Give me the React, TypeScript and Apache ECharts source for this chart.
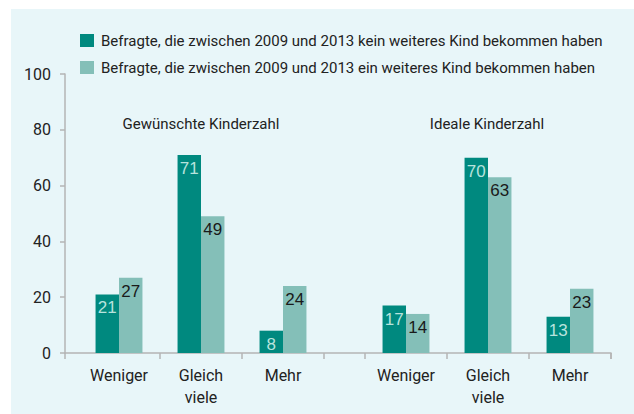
import React, { useEffect, useRef } from "react";
import * as echarts from "echarts";

const categories = ["Weniger", "Gleich\nviele", "Mehr"];
const groupTitles = ["Gewünschte Kinderzahl", "Ideale Kinderzahl"];
const seriesNames = [
  "Befragte, die zwischen 2009 und 2013 kein weiteres Kind bekommen haben",
  "Befragte, die zwischen 2009 und 2013 ein weiteres Kind bekommen haben",
];
const desiredNoChild = [21, 71, 8];
const desiredMoreChild = [27, 49, 24];
const idealNoChild = [17, 70, 13];
const idealMoreChild = [14, 63, 23];
const yMin = 0;
const yMax = 100;
const yInterval = 20;

const DARK = "#00897f";
const LIGHT = "#84bfb8";
const AXIS = "#b4b4b4";
const TEXT = "#222222";
const FONT = "Roboto, 'Liberation Sans', sans-serif";

export default function App() {
  const ref = useRef<HTMLDivElement>(null);
  useEffect(() => {
    if (!ref.current) return;
    const chart = echarts.init(ref.current, undefined, { renderer: "svg" });
    const top = 74;
    const height = 279;
    const grids = [
      { left: 78, top, width: 246, height },
      { left: 365, top, width: 246, height },
      { left: 65, top, width: 546, height },
    ];
    const catAxis = (gridIndex: number, hideFirst: boolean) => ({
      type: "category",
      gridIndex,
      data: categories,
      axisLine: { show: false },
      axisTick: {
        show: true,
        length: 6,
        lineStyle: { color: AXIS, width: 1.5 },
        interval: hideFirst ? (i: number) => i !== 0 : 0,
      },
      axisLabel: {
        color: TEXT,
        fontFamily: FONT,
        fontSize: 16,
        lineHeight: 22,
        margin: 11,
      },
    });
    const barLabel = (light: boolean) => ({
      show: true,
      position: "insideTop",
      distance: 5,
      fontFamily: "'Liberation Sans', Arial, sans-serif",
      fontSize: 17,
      color: light ? "#b7e3dd" : "#1a1a1a",
    });
    const mkSeries = (name: string, data: number[], idx: number, dark: boolean) => ({
      type: "bar",
      name,
      xAxisIndex: idx,
      yAxisIndex: idx,
      data,
      barWidth: "28.6%",
      barGap: "0%",
      itemStyle: { color: dark ? DARK : LIGHT },
      label: barLabel(dark),
    });
    const option = {
      animation: false,
      backgroundColor: "#ffffff",
      textStyle: { fontFamily: FONT },
      graphic: [
        {
          type: "rect",
          z: -10,
          silent: true,
          shape: { x: 11, y: 9, width: 630, height: 410 },
          style: { fill: "#e8f6f9" },
        },
        {
          type: "text",
          x: 201,
          y: 124,
          style: {
            text: groupTitles[0],
            fontFamily: FONT,
            fontSize: 15,
            fill: TEXT,
            textAlign: "center",
            textVerticalAlign: "middle",
          },
        },
        {
          type: "text",
          x: 487,
          y: 124,
          style: {
            text: groupTitles[1],
            fontFamily: FONT,
            fontSize: 15,
            fill: TEXT,
            textAlign: "center",
            textVerticalAlign: "middle",
          },
        },
      ],
      legend: {
        orient: "vertical",
        left: 80,
        top: 33,
        padding: 0,
        itemWidth: 14,
        itemHeight: 13,
        itemGap: 12,
        icon: "rect",
        data: seriesNames,
        selectedMode: false,
        textStyle: { color: TEXT, fontFamily: FONT, fontSize: 15, padding: [0, 0, 0, 2] },
      },
      grid: grids,
      xAxis: [
        catAxis(0, true),
        catAxis(1, false),
        {
          type: "category",
          gridIndex: 2,
          data: [""],
          axisLine: { show: true, lineStyle: { color: AXIS, width: 1.5 } },
          axisTick: { show: true, length: 6, lineStyle: { color: AXIS, width: 1.5 } },
          axisLabel: { show: false },
        },
      ],
      yAxis: [
        {
          type: "value",
          gridIndex: 0,
          min: yMin,
          max: yMax,
          interval: yInterval,
          offset: 13,
          axisLine: { show: true, lineStyle: { color: AXIS, width: 1.5 } },
          axisTick: { show: true, length: 5, lineStyle: { color: AXIS, width: 1.5 } },
          splitLine: { show: false },
          axisLabel: { color: TEXT, fontFamily: FONT, fontSize: 16, margin: 14 },
        },
        { type: "value", gridIndex: 1, min: yMin, max: yMax, interval: yInterval, show: false },
        { type: "value", gridIndex: 2, min: yMin, max: yMax, interval: yInterval, show: false },
      ],
      series: [
        mkSeries(seriesNames[0], desiredNoChild, 0, true),
        mkSeries(seriesNames[1], desiredMoreChild, 0, false),
        mkSeries(seriesNames[0], idealNoChild, 1, true),
        mkSeries(seriesNames[1], idealMoreChild, 1, false),
      ],
    };
    chart.setOption(option as any);
    return () => chart.dispose();
  }, []);
  return (
    <div
      ref={ref}
      style={{ position: "absolute", left: 0, top: 0, width: 634, height: 414 }}
    />
  );
}
